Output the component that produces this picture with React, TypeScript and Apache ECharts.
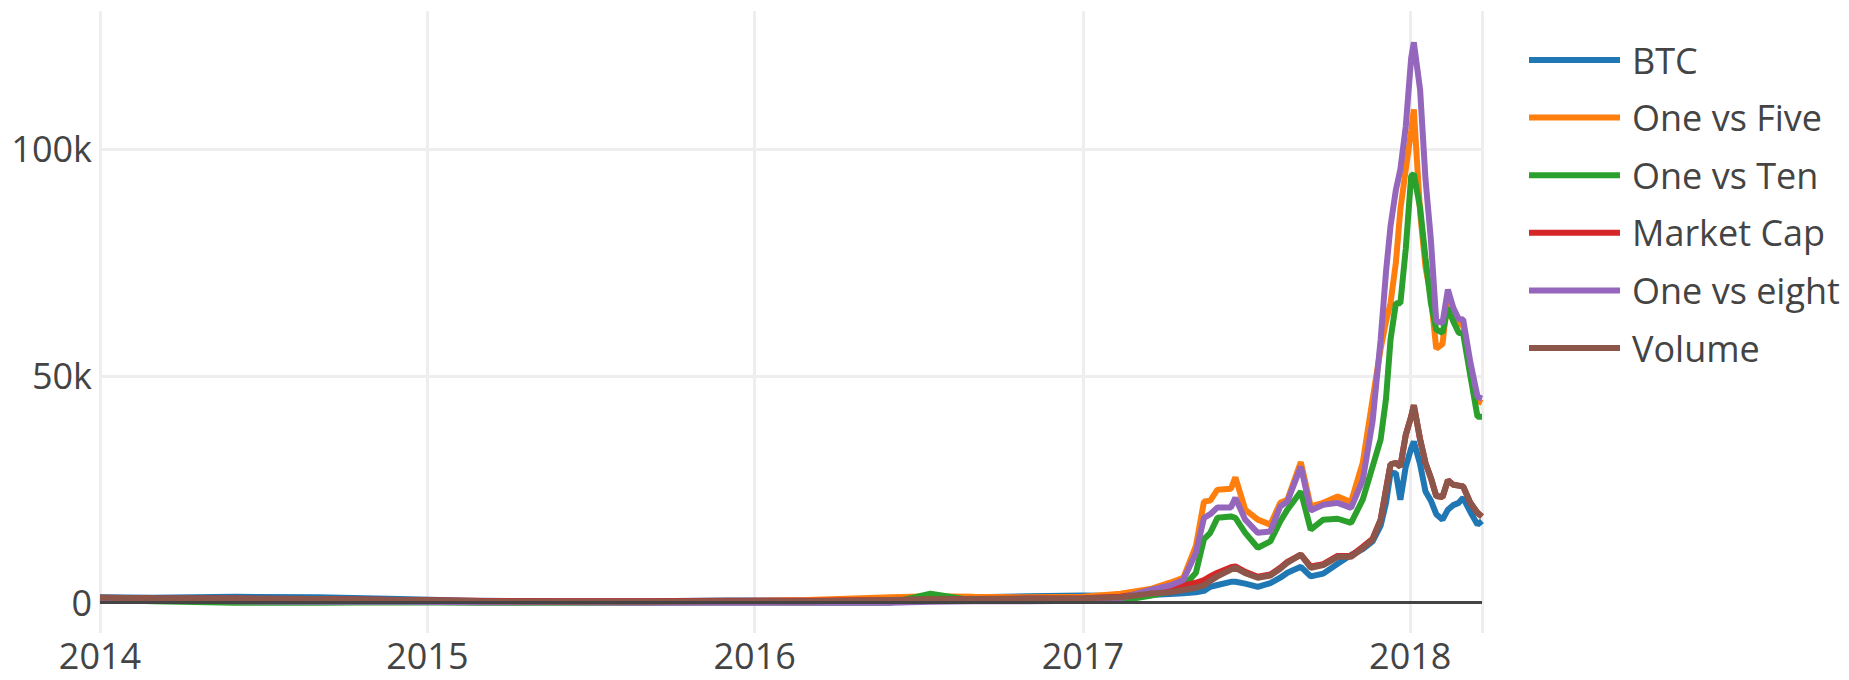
import React, { useEffect, useRef } from "react";
import * as echarts from "echarts";

const dates = [
  "2014-01-01", "2014-03-01", "2014-06-01", "2014-09-01", "2014-12-01",
  "2015-03-01", "2015-06-01", "2015-09-01", "2015-12-01",
  "2016-03-01", "2016-06-01", "2016-07-15", "2016-09-01", "2016-11-01",
  "2017-01-01", "2017-02-12", "2017-03-17", "2017-04-08", "2017-04-23", "2017-05-07",
  "2017-05-16", "2017-05-23", "2017-05-31", "2017-06-15", "2017-06-20", "2017-07-01",
  "2017-07-15", "2017-07-29", "2017-08-09", "2017-08-17", "2017-09-01", "2017-09-12",
  "2017-09-26", "2017-10-12", "2017-10-27", "2017-11-09", "2017-11-20", "2017-11-29",
  "2017-12-05", "2017-12-10", "2017-12-16", "2017-12-21", "2017-12-27", "2018-01-02",
  "2018-01-05", "2018-01-12", "2018-01-18", "2018-01-24", "2018-01-30", "2018-02-06",
  "2018-02-12", "2018-02-18", "2018-02-24", "2018-03-01", "2018-03-09", "2018-03-17",
  "2018-03-22",
];

const btc = [
  1200, 1100, 1300, 1200, 800, 400, 300, 300, 500, 500, 800, 900, 1200, 1400,
  1600, 1500, 1700, 1900, 2100, 2300, 2600, 3500, 3900, 4600, 4600, 4200, 3500, 4300,
  5500, 6600, 7900, 5800, 6400, 8600, 10500, 11800, 13500, 17000, 22000, 28700, 28500,
  22700, 30000, 34000, 35500, 30500, 24500, 22500, 19500, 18300, 20500, 21500, 22000,
  23100, 20000, 17200, 18000,
];

const oneVsFive = [
  900, 800, 700, 600, 400, 200, 200, 200, 300, 600, 1200, 1400, 1300, 1200,
  1300, 2000, 3000, 4400, 5500, 12500, 22300, 22500, 24900, 25100, 27600, 20500, 18300,
  17200, 22000, 22700, 31000, 21200, 22000, 23400, 22200, 30800, 44800, 56000, 62000,
  66000, 75000, 86700, 95500, 104000, 108700, 86000, 74000, 67500, 56000, 57000, 68000,
  63000, 61500, 61000, 52000, 44500, 44000,
];

const oneVsTen = [
  700, 300, 0, 0, 100, 0, 0, 0, 100, 0, 0, 2000, 500, 500,
  400, 500, 1500, 2500, 3500, 6600, 14000, 15400, 18700, 19000, 18700, 15400, 12100,
  13500, 17900, 20500, 24500, 16100, 18300, 18500, 17600, 22700, 30000, 36000, 45000,
  58000, 66000, 66000, 78000, 94000, 94500, 87000, 76000, 66000, 60200, 59500, 65000,
  62000, 59500, 59300, 50000, 41000, 41000,
];

const marketCap = [
  1100, 1000, 900, 800, 600, 400, 300, 300, 400, 400, 600, 700, 800, 900,
  1000, 1300, 2300, 3000, 3800, 4400, 5000, 5800, 6600, 7800, 8000, 6800, 5700, 6200,
  7700, 9000, 10600, 8000, 8500, 10300, 10300, 12300, 14100, 18300, 25000, 30500, 30800,
  30000, 37000, 41000, 43500, 36000, 30800, 27500, 23500, 23300, 27000, 26000, 25800,
  25600, 22000, 19800, 19000,
];

const oneVsEight = [
  800, 600, 300, 200, 200, 100, 100, 0, 0, 0, 0, 200, 300, 300,
  400, 1000, 2800, 3800, 5000, 11000, 18700, 19500, 21000, 21000, 23100, 18300, 15400,
  15700, 21200, 22300, 30000, 20300, 21600, 22000, 20900, 27000, 40000, 58000, 73000,
  83000, 91000, 95500, 105000, 120000, 123500, 113000, 93300, 80000, 62000, 61700, 69000,
  65000, 62500, 62400, 53000, 45400, 45000,
];

const volume = [
  1100, 1000, 900, 800, 600, 300, 200, 200, 300, 300, 600, 700, 800, 900,
  1000, 1200, 2000, 2300, 2800, 3300, 3800, 4800, 5800, 7300, 7700, 6500, 5500, 6000,
  7500, 8800, 10600, 7700, 8300, 10100, 10100, 12000, 13900, 18300, 25000, 30500, 30800,
  30000, 37000, 41000, 43500, 36000, 30800, 27500, 23500, 23300, 27000, 26000, 25800,
  25600, 22000, 19800, 19000,
];

const seriesNames = ["BTC", "One vs Five", "One vs Ten", "Market Cap", "One vs eight", "Volume"];
const seriesColors = ["#1f77b4", "#ff7f0e", "#2ca02c", "#d62728", "#9467bd", "#8c564b"];
const xMin = "2014-01-01";
const xMax = "2018-03-22";
const yMin = -6680;
const yMax = 130400;

const FONT = "'Open Sans', verdana, arial, sans-serif";
const DAY = 24 * 3600 * 1000;

export default function App() {
  const ref = useRef<HTMLDivElement>(null);

  useEffect(() => {
    const chart = echarts.init(ref.current!, null, { renderer: "svg" });
    const values = [btc, oneVsFive, oneVsTen, marketCap, oneVsEight, volume];
    chart.setOption({
      animation: false,
      backgroundColor: "#ffffff",
      textStyle: { fontFamily: FONT },
      color: seriesColors,
      grid: { left: 100, right: 367, top: 11, bottom: 47, containLabel: false },
      legend: {
        orient: "vertical",
        left: 1524,
        top: 37,
        itemWidth: 91,
        itemHeight: 6,
        itemGap: 21.6,
        icon: "rect",
        data: seriesNames,
        textStyle: {
          fontFamily: FONT,
          fontSize: 36,
          color: "#444",
          lineHeight: 36,
          padding: [0, 0, 0, 7],
        },
      },
      xAxis: {
        type: "time",
        min: xMin,
        max: xMax,
        splitNumber: 4,
        minInterval: 365 * DAY,
        maxInterval: 366 * DAY,
        axisLine: { show: false },
        axisTick: { show: false },
        splitLine: { show: true, lineStyle: { color: "#eeeeee", width: 3 } },
        axisLabel: {
          fontFamily: FONT,
          fontSize: 36,
          color: "#444",
          margin: 4,
          formatter: (v: number) => String(new Date(v).getFullYear()),
        },
      },
      yAxis: {
        type: "value",
        min: yMin,
        max: yMax,
        splitNumber: 3,
        axisLine: { show: false },
        axisTick: { show: false },
        splitLine: {
          show: true,
          showMinLine: false,
          showMaxLine: false,
          lineStyle: { color: "#eeeeee", width: 3 },
        },
        axisLabel: {
          fontFamily: FONT,
          fontSize: 36,
          color: "#444",
          margin: 8,
          showMinLabel: false,
          showMaxLabel: false,
          formatter: (v: number) => (v === 0 ? "0" : v / 1000 + "k"),
        },
      },
      series: seriesNames.map((name, i) => ({
        name,
        type: "line",
        data: dates.map((d, j) => [d, values[i][j]]),
        showSymbol: false,
        symbol: "none",
        lineStyle: { width: 6, color: seriesColors[i] },
        itemStyle: { color: seriesColors[i] },
        markLine:
          i === 0
            ? {
                silent: true,
                symbol: ["none", "none"],
                label: { show: false },
                lineStyle: { color: "#444", width: 3, type: "solid" },
                data: [{ yAxis: 0 }],
              }
            : undefined,
      })),
    });
    return () => chart.dispose();
  }, []);

  return (
    <div
      ref={ref}
      style={{ position: "absolute", left: 0, top: 0, width: 1849, height: 680 }}
    />
  );
}
